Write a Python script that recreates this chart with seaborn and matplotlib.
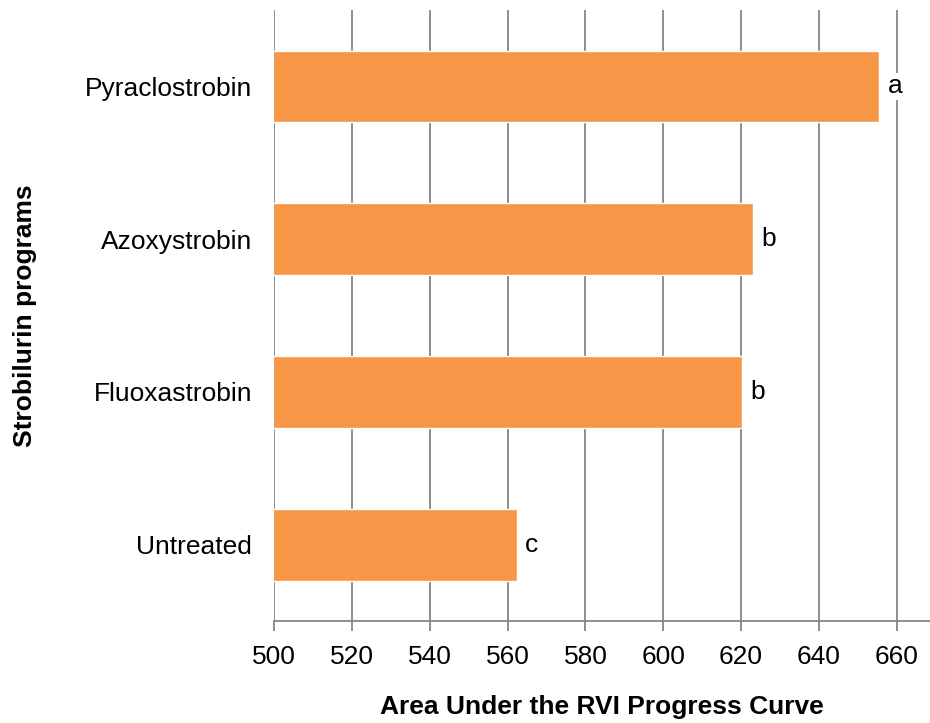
import pandas as pd
import seaborn as sns
import matplotlib
matplotlib.use("Agg")
from matplotlib import pyplot as plt

# data
programs = ["Pyraclostrobin", "Azoxystrobin", "Fluoxastrobin", "Untreated"]
audpc = [655.6, 623.0, 620.2, 562.3]
letters = ["a", "b", "b", "c"]
x_ticks = [500, 520, 540, 560, 580, 600, 620, 640, 660]

df = pd.DataFrame({"Program": programs, "AUDPC": audpc})

sns.set_style("white")
plt.rcParams["font.family"] = ["Liberation Sans", "DejaVu Sans"]
plt.rcParams["text.color"] = "black"
plt.rcParams["axes.labelcolor"] = "black"
plt.rcParams["xtick.labelcolor"] = "black"
plt.rcParams["ytick.labelcolor"] = "black"

fig = plt.figure(figsize=(9.3, 7.23), dpi=100)
ax = fig.add_axes([0.295, 0.141, 0.705, 0.845])

# grid lines first so bars sit on top
ax.set_axisbelow(True)
ax.xaxis.grid(True, color="#868686", linewidth=1.3)
ax.yaxis.grid(False)

sns.barplot(data=df, x="AUDPC", y="Program", orient="h", color="#F79646",
            saturation=1, width=0.47, ax=ax)

# significance letters next to each bar
for i, (v, lt) in enumerate(zip(audpc, letters)):
    ax.annotate(lt, (v, i), xytext=(6, 0), textcoords="offset points",
                ha="left", va="center", fontsize=19, color="black",
                bbox=dict(facecolor="white", edgecolor="none", pad=1))

ax.set_xlim(500, 668.6)
ax.set_ylim(3.5, -0.5)
ax.set_xticks(x_ticks)

for side in ["top", "right", "left"]:
    ax.spines[side].set_visible(False)
ax.spines["bottom"].set_color("#868686")
ax.spines["bottom"].set_linewidth(1.3)

ax.tick_params(axis="x", length=7, width=1.3, color="#868686", pad=10,
               labelsize=19, labelcolor="black", bottom=True)
ax.tick_params(axis="y", length=0, pad=16, labelsize=19, labelcolor="black")

ax.set_xlabel("Area Under the RVI Progress Curve", fontsize=19,
              fontweight="bold", labelpad=19, color="black")
ax.set_ylabel("Strobilurin programs", fontsize=19, fontweight="bold",
              color="black")
ax.yaxis.set_label_coords(-0.362, 0.5)

fig.savefig("out.png", dpi=100)
